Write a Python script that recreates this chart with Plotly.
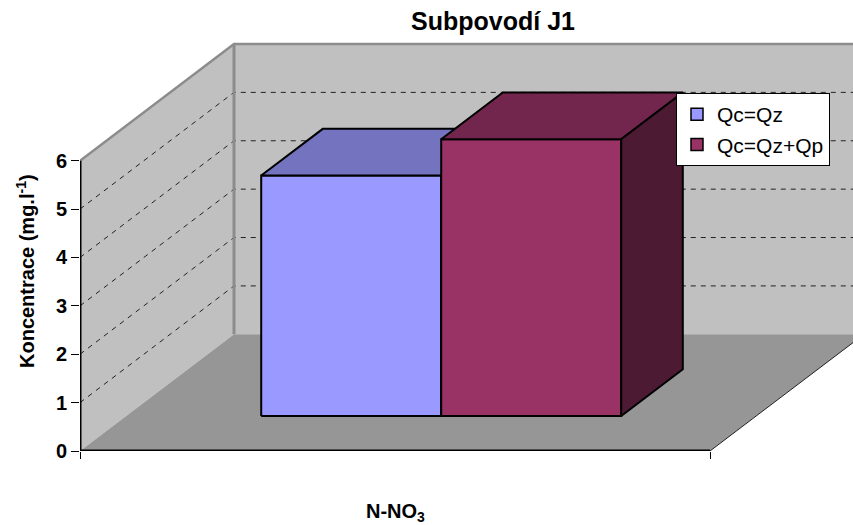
import plotly.graph_objects as go

# ---------------- data ----------------
category = "N-NO<sub>3</sub>"
series_names = ["Qc=Qz", "Qc=Qz+Qp"]
values = [4.97, 5.72]
y_tick_values = [0, 1, 2, 3, 4, 5, 6]
y_tick_labels = ["0", "1", "2", "3", "4", "5", "6"]
chart_title = "Subpovodí J1"
y_title = "Koncentrace (mg.l<sup>-1</sup>)"

# ---------------- styles ----------------
FONT = "Liberation Sans, Arial, sans-serif"
front_colors = ["#9999FF", "#993366"]
top_colors = ["#7373BF", "#73264D"]
side_colors = ["#5C5C99", "#4D1A33"]
WALL = "#C0C0C0"
FLOOR = "#969696"
EDGE = "#8C8C8C"

# ---------------- geometry of the 3-D box ----------------
W, H = 853, 525
ML, MR, MT, MB = 80, 0, 30, 74
Y_MAX = max(y_tick_values)
PX_PER_UNIT = 48.383          # vertical pixels per value unit
CAT_PX = 630.0                # pixels of one category along the floor front
DEPTH_X = 154.0 / CAT_PX      # depth offset in category units
DEPTH_Y = 116.7 / PX_PER_UNIT # depth offset in value units
GAP_WIDTH = 1.5
GAP_DEPTH = 1.5

plot_w = W - ML - MR
plot_h = H - MT - MB
x_range = [0, plot_w / CAT_PX]
y_range = [0, plot_h / PX_PER_UNIT]


def proj(x, v, d):
    """Oblique projection of (category position, value, depth) onto the axes."""
    return x + d * DEPTH_X, v + d * DEPTH_Y


def polygon(points, fill, line_color="black", line_width=0.0):
    xs, ys = zip(*[proj(*p) for p in points])
    xs = list(xs) + [xs[0]]
    ys = list(ys) + [ys[0]]
    return go.Scatter(x=xs, y=ys, mode="lines", fill="toself", fillcolor=fill,
                      line=dict(color=line_color, width=line_width),
                      hoverinfo="skip", showlegend=False)


def polyline(segments, color, width, dash="solid"):
    xs, ys = [], []
    for seg in segments:
        for p in seg:
            px, py = proj(*p)
            xs.append(px)
            ys.append(py)
        xs.append(None)
        ys.append(None)
    return go.Scatter(x=xs, y=ys, mode="lines",
                      line=dict(color=color, width=width, dash=dash),
                      hoverinfo="skip", showlegend=False)


fig = go.Figure()

# walls and floor
fig.add_trace(polygon([(0, 0, 0), (0, Y_MAX, 0), (0, Y_MAX, 1), (0, 0, 1)], WALL))
fig.add_trace(polygon([(0, 0, 1), (0, Y_MAX, 1), (1, Y_MAX, 1), (1, 0, 1)], WALL))
fig.add_trace(polygon([(0, 0, 0), (1, 0, 0), (1, 0, 1), (0, 0, 1)], FLOOR))

# dashed gridlines on the side and back walls
grid = [[(0, v, 0), (0, v, 1), (1, v, 1)] for v in y_tick_values if 0 < v < Y_MAX]
fig.add_trace(polyline(grid, "#222222", 1, dash="5px,5px"))

# wall edges
fig.add_trace(polyline([[(0, Y_MAX, 0), (0, Y_MAX, 1), (1, Y_MAX, 1)]], EDGE, 2.5))
fig.add_trace(polyline([[(0, 0, 1), (0, Y_MAX, 1)]], EDGE, 3))
fig.add_trace(polyline([[(1, 0, 0), (1, 0, 1)]], "#222222", 1))

# bars
n = len(values)
slot = 1.0 / (n + GAP_WIDTH)
bar_depth = 1.0 / (1.0 + GAP_DEPTH)
d0 = (1.0 - bar_depth) / 2
d1 = d0 + bar_depth
for i, v in enumerate(values):
    x0 = GAP_WIDTH / 2 * slot + i * slot
    x1 = x0 + slot
    fig.add_trace(polygon([(x0, 0, d0), (x0, v, d0), (x1, v, d0), (x1, 0, d0)],
                          front_colors[i], "black", 2))
    fig.add_trace(polygon([(x0, v, d0), (x1, v, d0), (x1, v, d1), (x0, v, d1)],
                          top_colors[i], "black", 2))
    fig.add_trace(polygon([(x1, 0, d0), (x1, v, d0), (x1, v, d1), (x1, 0, d1)],
                          side_colors[i], "black", 2))

# front axis lines
fig.add_trace(polyline([[(0, 0, 0), (0, Y_MAX, 0)]], "black", 3))
fig.add_trace(polyline([[(0, 0, 0), (1, 0, 0)]], "black", 3))

# legend entries
for i, name in enumerate(series_names):
    fig.add_trace(go.Scatter(x=[None], y=[None], mode="markers", name=name,
                             marker=dict(symbol="square", size=12, color=front_colors[i],
                                         line=dict(color="black", width=1.5))))

fig.update_layout(
    width=W, height=H,
    margin=dict(l=ML, r=MR, t=MT, b=MB, pad=0),
    paper_bgcolor="white", plot_bgcolor="white",
    font=dict(family=FONT, color="black"),
    title=dict(text=chart_title, x=493 / W, xanchor="center", xref="container",
               y=1 - 21 / H, yanchor="middle", yref="container",
               font=dict(size=25, weight="bold", family=FONT)),
    xaxis=dict(range=x_range, showgrid=False, zeroline=False, showline=False,
               tickvals=[0, 1], ticks="outside", ticklen=7, tickcolor="black",
               tickwidth=1, showticklabels=False, fixedrange=True),
    yaxis=dict(range=y_range, showgrid=False, zeroline=False, showline=False,
               tickvals=y_tick_values, ticktext=y_tick_labels, ticks="outside",
               ticklen=8, tickcolor="black", tickwidth=1,
               tickfont=dict(size=20, weight="bold", family=FONT), fixedrange=True),
    legend=dict(x=(676 - ML) / plot_w, y=(H - MB - 93) / plot_h,
                xanchor="left", yanchor="top",
                bgcolor="white", bordercolor="black", borderwidth=1,
                font=dict(size=21, family=FONT)),
    annotations=[
        dict(text=y_title, textangle=-90, xref="paper", yref="paper",
             x=(25 - ML) / plot_w, y=(H - MB - 271) / plot_h,
             xanchor="center", yanchor="middle", showarrow=False,
             font=dict(size=20, weight="bold", family=FONT)),
        dict(text=category, xref="paper", yref="paper",
             x=(395 - ML) / plot_w, y=(H - MB - 512) / plot_h,
             xanchor="center", yanchor="middle", showarrow=False,
             font=dict(size=20, weight="bold", family=FONT)),
    ],
)

fig.write_html("out.html")
